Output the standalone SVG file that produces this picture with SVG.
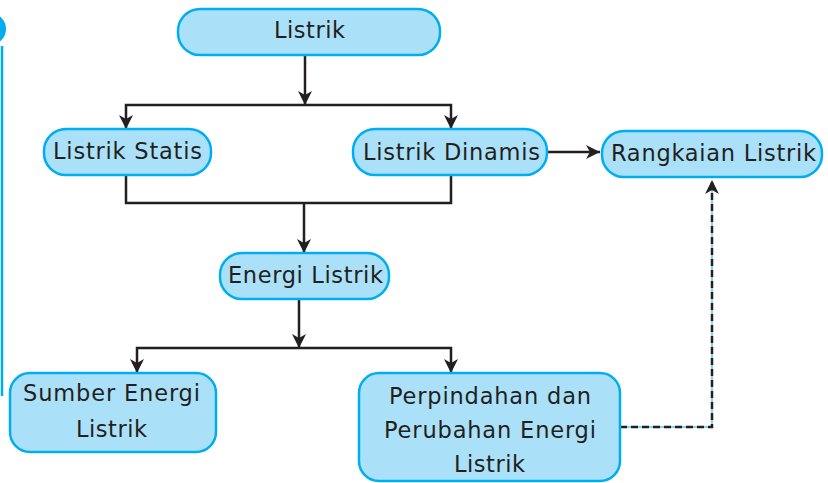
<svg xmlns="http://www.w3.org/2000/svg" width="828" height="483" viewBox="0 0 828 483">
  <defs>
    <marker id="arr" markerUnits="userSpaceOnUse" markerWidth="14" markerHeight="14" viewBox="0 0 14 14" refX="14" refY="7" orient="auto">
      <path d="M0,0 L14,7 L0,14 L4,7 z" fill="#231f20"/>
    </marker>
    <style>
      .box { fill: #aae1f9; stroke: #00aeef; stroke-width: 2.5; }
      .lbl { font-family: "DejaVu Sans", "Liberation Sans", sans-serif; font-size: 22.5px; fill: #231f20; }
      .ln { fill: none; stroke: #231f20; stroke-width: 2.5; }
      .ah { marker-end: url(#arr); }
    </style>
  </defs>
  <rect width="828" height="483" fill="#ffffff"/>

  <!-- decorative left edge -->
  <circle cx="-10" cy="29" r="16" fill="#00aeef"/>
  <line x1="2" y1="46" x2="2" y2="396" stroke="#00aeef" stroke-width="2.5"/>

  <g id="connectors">
    <path class="ln ah" d="M305,55 V105"/>
    <path class="ln ah" d="M305,105 H126 V129"/>
    <path class="ln ah" d="M305,105 H451 V129"/>
    <path class="ln" d="M126,175 V203 H451 V175"/>
    <path class="ln ah" d="M304,203 V253"/>
    <path class="ln ah" d="M547,152 H600"/>
    <path class="ln ah" d="M299,299 V348"/>
    <path class="ln ah" d="M299,348 H137 V373"/>
    <path class="ln ah" d="M299,348 H451 V373"/>
    <path d="M620,427 H712 V190" fill="none" stroke="#00aeef" stroke-width="1"/>
    <path class="ln ah" d="M620,427 H712 V180" stroke-dasharray="7,4" stroke-width="3"/>
  </g>

  <g id="listrik">
    <rect class="box" x="178" y="9" width="262" height="46" rx="22"/>
    <text class="lbl" x="309.5" y="38" text-anchor="middle" textLength="71" lengthAdjust="spacing">Listrik</text>
  </g>
  <g id="listrik-statis">
    <rect class="box" x="44" y="129" width="167" height="46" rx="22"/>
    <text class="lbl" x="127.5" y="159" text-anchor="middle" textLength="149" lengthAdjust="spacing">Listrik Statis</text>
  </g>
  <g id="listrik-dinamis">
    <rect class="box" x="353" y="129" width="194" height="46" rx="22"/>
    <text class="lbl" x="451.5" y="160" text-anchor="middle" textLength="177" lengthAdjust="spacing">Listrik Dinamis</text>
  </g>
  <g id="rangkaian-listrik">
    <rect class="box" x="602" y="131" width="220" height="46" rx="22"/>
    <text class="lbl" x="713.5" y="161" text-anchor="middle" textLength="205" lengthAdjust="spacing">Rangkaian Listrik</text>
  </g>
  <g id="energi-listrik">
    <rect class="box" x="220" y="253" width="169" height="46" rx="22"/>
    <text class="lbl" x="305.5" y="283" text-anchor="middle" textLength="155" lengthAdjust="spacing">Energi Listrik</text>
  </g>
  <g id="sumber-energi-listrik">
    <rect class="box" x="10" y="373" width="206" height="79" rx="20"/>
    <text class="lbl" x="111.5" y="401" text-anchor="middle" textLength="177" lengthAdjust="spacing">Sumber Energi</text>
    <text class="lbl" x="111.5" y="437" text-anchor="middle" textLength="71" lengthAdjust="spacing">Listrik</text>
  </g>
  <g id="perpindahan-perubahan">
    <rect class="box" x="359" y="373" width="261" height="108" rx="20"/>
    <text class="lbl" x="490" y="404" text-anchor="middle" textLength="202" lengthAdjust="spacing">Perpindahan dan</text>
    <text class="lbl" x="490" y="438" text-anchor="middle" textLength="212" lengthAdjust="spacing">Perubahan Energi</text>
    <text class="lbl" x="489.5" y="472" text-anchor="middle" textLength="71" lengthAdjust="spacing">Listrik</text>
  </g>
</svg>
